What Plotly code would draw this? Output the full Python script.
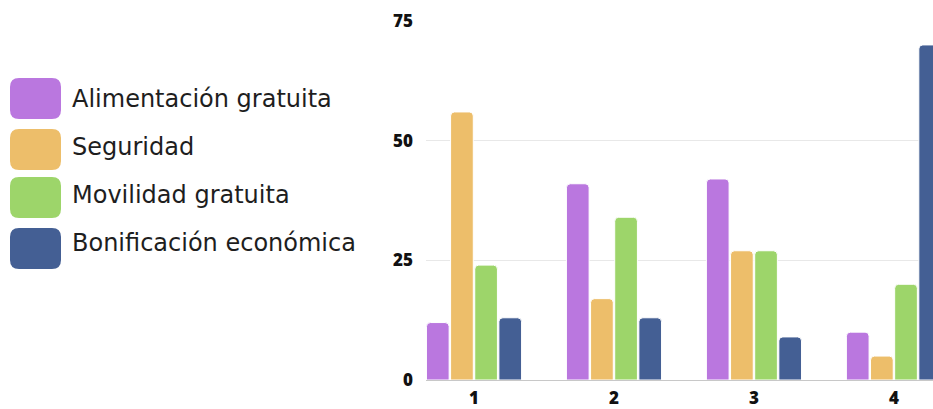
import plotly.graph_objects as go

categorias = ["1", "2", "3", "4"]
series = ["Alimentación gratuita", "Seguridad", "Movilidad gratuita", "Bonificación económica"]
alimentacion = [12, 41, 42, 10]
seguridad = [56, 17, 27, 5]
movilidad = [24, 34, 27, 20]
bonificacion = [13, 13, 9, 70]
colores = ["#BA77DF", "#EDBE6A", "#9DD56A", "#445F94"]
y_ticks = [0, 25, 50, 75]

W, H = 933, 409
L, R, T, B = 426, 933, 21, 380  # área de trazado en píxeles


def px_x(px):
    return (px - L) / (R - L)


def px_y(py):
    return (B - py) / (B - T)


fig = go.Figure()
for nombre, vals, col in zip(series, [alimentacion, seguridad, movilidad, bonificacion], colores):
    fig.add_trace(go.Bar(
        x=categorias, y=vals, name=nombre,
        marker=dict(color=col, line=dict(color="white", width=1), cornerradius=4),
        showlegend=False,
    ))


# leyenda manual con cuadros redondeados
def rrect(x0, y0, x1, y1, rx, ry):
    return (f"M{x0+rx},{y0} L{x1-rx},{y0} Q{x1},{y0} {x1},{y0+ry} L{x1},{y1-ry} Q{x1},{y1} {x1-rx},{y1} "
            f"L{x0+rx},{y1} Q{x0},{y1} {x0},{y1-ry} L{x0},{y0+ry} Q{x0},{y0} {x0+rx},{y0} Z")


shapes = []
annotations = []
box_tops = [78, 129, 177, 228]
text_mid = [99, 147, 195, 243]
for nombre, col, top, mid in zip(series, colores, box_tops, text_mid):
    x0, x1 = px_x(10), px_x(61)
    y0, y1 = px_y(top + 41), px_y(top)
    shapes.append(dict(type="path", xref="paper", yref="paper",
                       path=rrect(x0, y0, x1, y1, 9 / (R - L), 9 / (B - T)),
                       fillcolor=col, line=dict(width=0)))
    annotations.append(dict(xref="paper", yref="paper", x=px_x(70), y=px_y(mid),
                            text=nombre, showarrow=False, xanchor="left", yanchor="middle",
                            font=dict(family="DejaVu Sans", size=24, color="#1e1e1e")))

fig.update_layout(
    width=W, height=H,
    margin=dict(l=L, r=W - R, t=T, b=H - B, autoexpand=False),
    paper_bgcolor="white", plot_bgcolor="white",
    barmode="group", bargap=0.31, bargroupgap=0.06,
    xaxis=dict(type="category", range=[-0.343, 3.279], showgrid=False, automargin=False,
               showline=True, linecolor="#c8c8c8", linewidth=1, ticks="", ticklabelstandoff=3,
               tickfont=dict(family="Open Sans", size=17, color="#111", weight=800)),
    yaxis=dict(range=[0, 75], tickvals=y_ticks, showgrid=True, gridcolor="#e8e8e8",
               zeroline=False, ticks="", ticklabelstandoff=12, automargin=False,
               tickfont=dict(family="Open Sans", size=17, color="#111", weight=800)),
    shapes=shapes, annotations=annotations,
)
fig.write_html("out.html", config={"displayModeBar": False},
               post_script="document.body.style.margin='0';")
